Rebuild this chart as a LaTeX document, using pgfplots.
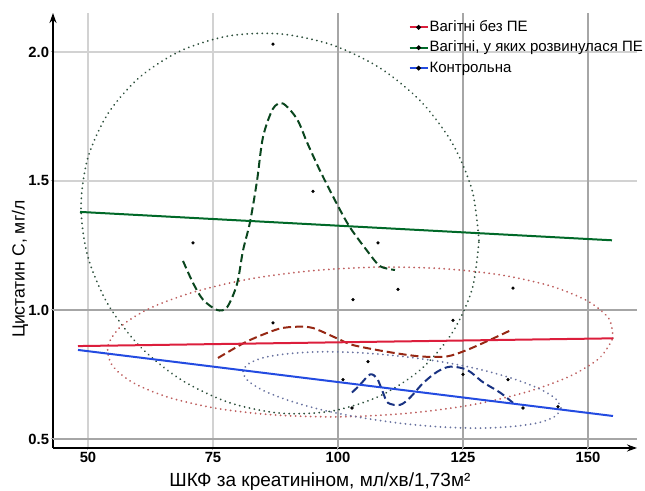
\documentclass[border=0pt]{standalone}
\usepackage{pgfplots}
\pgfplotsset{compat=1.18}
\usepackage{fontspec}
\setmainfont{Liberation Sans}
\usetikzlibrary{arrows.meta}
\definecolor{cRed}{RGB}{220,30,60}
\definecolor{cGreen}{RGB}{0,105,40}
\definecolor{cBlue}{RGB}{35,75,225}
\definecolor{dGreen}{RGB}{10,70,30}
\definecolor{dRed}{RGB}{150,40,20}
\definecolor{dBlue}{RGB}{25,50,130}
\definecolor{eGreen}{RGB}{45,80,60}
\definecolor{eRed}{RGB}{190,95,95}
\definecolor{eBlue}{RGB}{105,115,160}
\begin{document}
\begin{tikzpicture}
\path[use as bounding box] (-26.5pt,-21.5pt) rectangle (296pt,224pt);
\begin{axis}[
  at={(0pt,0pt)}, anchor=south west,
  scale only axis, width=292pt, height=217.5pt,
  xmin=43, xmax=159.8, ymin=0.465, ymax=2.151,
  axis lines=left,
  axis line style={line width=1.1pt, -{Stealth[length=5pt,width=3.5pt]}},
  xtick={50,75,100,125,150}, ytick={0.5,1.0,1.5,2.0},
  grid=major, major grid style={gray!35, line width=0.6pt},
  extra x ticks={100,125,150}, extra x tick labels={},
  extra y ticks={0.5,1.0}, extra y tick labels={},
  extra tick style={grid=major, major grid style={gray!70, line width=0.6pt}},
  tick align=outside, major tick length=1.2pt, tick style={gray!60, line width=0.5pt},
  /pgf/number format/assume math mode=true,
  ticklabel style={font=\fontsize{7.4}{8}\selectfont\bfseries, inner sep=0.6pt},
  yticklabel style={/pgf/number format/.cd, fixed, fixed zerofill, precision=1},
  xlabel={ШКФ за креатиніном, мл/хв/1,73м²},
  ylabel={Цистатин С, мг/л},
  xlabel style={at={(axis description cs:0.457,-0.078)}, anchor=center, font=\fontsize{9.5}{11}\selectfont},
  ylabel style={at={(axis description cs:-0.0565,0.411)}, anchor=center, font=\fontsize{8.8}{10}\selectfont},
  legend style={at={(axis description cs:0.598,0.996)}, anchor=north west, draw=none, fill=none,
    font=\fontsize{7.5}{8.5}\selectfont, row sep=2pt,
    nodes={inner sep=0.5pt, text height=5.6pt, text depth=1.6pt}},
  legend cell align=left,
  legend image code/.code={\draw[#1, line width=1pt] (0pt,0pt) -- (9pt,0pt); \fill[black] (4.5pt,0pt) circle (0.6pt);},
]
% confidence ellipses
\addplot[eGreen, line width=1pt, dash pattern=on 0.01pt off 2.5pt, line cap=round, smooth, forget plot] coordinates {
(128.2,1.270) (126.85,1.462) (122.87,1.646) (116.54,1.809) (108.3,1.939) (98.71,2.028) (88.4,2.070)
(78.09,2.062) (68.5,2.004) (60.26,1.901) (53.93,1.759) (49.95,1.588) (48.6,1.400) (49.95,1.208)
(53.93,1.024) (60.26,0.861) (68.5,0.731) (78.09,0.642) (88.4,0.600) (98.71,0.608) (108.3,0.666)
(116.54,0.769) (122.87,0.912) (126.85,1.082) (128.2,1.270)};
\addplot[eRed, line width=1pt, dash pattern=on 0.01pt off 2.5pt, line cap=round, smooth, forget plot] coordinates {
(155.0,0.891) (154.19,0.966) (149.98,1.034) (142.67,1.092) (132.78,1.135) (120.96,1.160) (108.0,1.166)
(94.80,1.152) (82.28,1.120) (71.27,1.070) (62.52,1.008) (56.63,0.937) (54.0,0.861) (54.81,0.786)
(59.02,0.718) (66.33,0.660) (76.22,0.617) (88.04,0.592) (101.0,0.586) (114.20,0.600) (126.72,0.632)
(137.73,0.682) (146.48,0.744) (152.37,0.815) (155.0,0.891)};
\addplot[eBlue, line width=1pt, dash pattern=on 0.01pt off 2.5pt, line cap=round, smooth, forget plot] coordinates {
(144.6,0.620) (143.52,0.656) (140.34,0.694) (135.28,0.732) (128.7,0.768) (121.04,0.798) (112.8,0.820)
(104.56,0.834) (96.9,0.838) (90.32,0.831) (85.26,0.816) (82.08,0.791) (81.0,0.760) (82.08,0.724)
(85.26,0.686) (90.32,0.648) (96.9,0.612) (104.56,0.583) (112.8,0.560) (121.04,0.546) (128.7,0.542)
(135.28,0.549) (140.34,0.564) (143.52,0.589) (144.6,0.620)};
% loess curves
\addplot[dGreen, line width=1pt, dash pattern=on 4pt off 2pt, smooth, forget plot] coordinates {
(69,1.19) (71,1.105) (73,1.04) (75.8,1.0) (77.8,1.01) (79.8,1.10) (81,1.23) (82.4,1.34) (83.8,1.50)
(85,1.67) (87,1.78) (89,1.80) (91.8,1.74) (93.8,1.65) (96.4,1.54) (99.8,1.41) (102.4,1.32)
(105.8,1.23) (108.4,1.17) (111.4,1.155)};
\addplot[dRed, line width=1pt, dash pattern=on 4pt off 2pt, smooth, forget plot] coordinates {
(76,0.814) (81,0.87) (84.4,0.90) (88.4,0.928) (91.8,0.935) (95,0.93) (99.8,0.89) (103,0.864)
(109.8,0.838) (116.4,0.82) (121.8,0.82) (125.8,0.845) (130.4,0.884) (134.4,0.92)};
\addplot[dBlue, line width=1pt, dash pattern=on 4pt off 2pt, smooth, forget plot] coordinates {
(102.8,0.68) (104.4,0.71) (106.4,0.75) (107.8,0.735) (109,0.68) (110,0.64) (112.4,0.632) (114.4,0.66)
(117,0.716) (119.8,0.76) (122.4,0.78) (125.8,0.768) (129,0.72) (132.4,0.68) (135,0.64)};
% observations
\addplot[only marks, mark=*, mark size=0.6pt, black, forget plot] coordinates {
(87,2.03) (95,1.46) (71,1.26) (108,1.26) (112,1.08) (103,1.04) (87,0.95) (135,1.085) (123,0.96)
(106,0.80) (101,0.73) (102.8,0.62) (134,0.73) (137,0.62) (144,0.625) (125,0.75)};
% regression lines
\addplot[cRed, line width=1pt] coordinates {(48,0.86) (155,0.89)};
\addlegendentry{Вагітні без ПЕ}
\addplot[cGreen, line width=1pt] coordinates {(48.4,1.38) (154.8,1.27)};
\addlegendentry{Вагітні, у яких розвинулася ПЕ}
\addplot[cBlue, line width=1pt] coordinates {(48,0.845) (155,0.589)};
\addlegendentry{Контрольна}
\end{axis}
\end{tikzpicture}
\end{document}
